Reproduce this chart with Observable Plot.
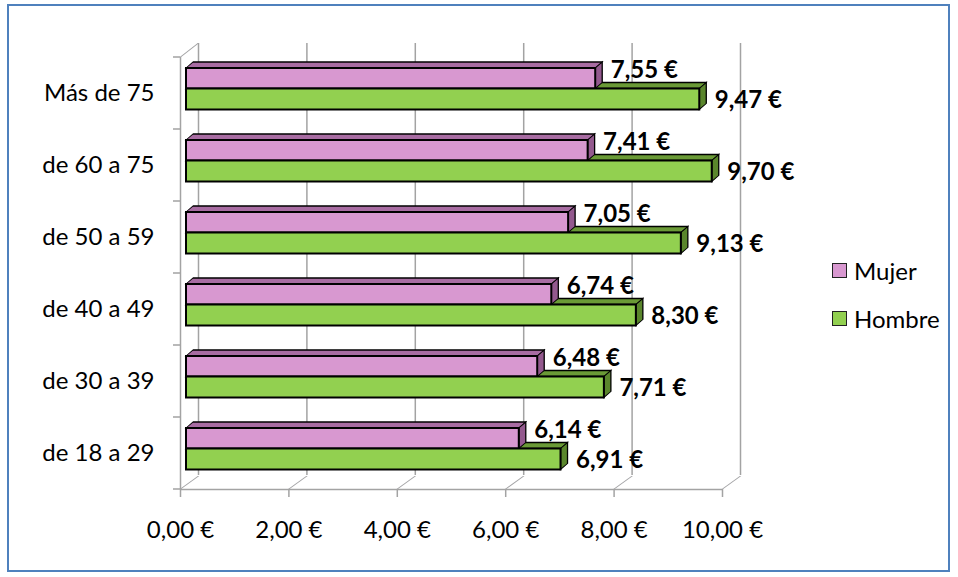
<!DOCTYPE html>
<html>
<head>
<meta charset="utf-8">
<script src="https://cdn.jsdelivr.net/npm/d3@7"></script>
<script src="https://cdn.jsdelivr.net/npm/@observablehq/plot@0.6"></script>
<style>
  html, body { margin: 0; padding: 0; background: #fff; }
  #wrap { position: relative; width: 958px; height: 577px; font-family: Lato, "Open Sans", sans-serif; }
  #chart svg { display: block; }
  #frame { position: absolute; left: 7px; top: 4px; width: 943px; height: 568px; box-sizing: border-box; border: 2px solid #4F81BD; pointer-events: none; }
  #legend { position: absolute; left: 832px; top: 0; }
  .li { position: absolute; left: 0; display: flex; align-items: center; white-space: nowrap; font-size: 24px; color: #000; }
  .sw { width: 15px; height: 15px; box-sizing: border-box; border: 1.5px solid #222; margin-right: 7px; }
  rect[aria-label="top-face"], g[fill="#6A9A36"] rect, g[fill="#A86CA2"] rect {
    transform-box: fill-box; transform-origin: 0 100%; transform: skewX(-49.4deg); }
  rect[aria-label="side-face"], g[fill="#5A862C"] rect, g[fill="#93598E"] rect {
    transform-box: fill-box; transform-origin: 0 0; transform: skewY(-40.6deg); }
  line[aria-label="diag-top"], g[stroke="#A3A3A4"] line {
    transform-box: fill-box; transform-origin: 0 100%; transform: skewX(-52.1deg); }
  line[aria-label="diag-floor"], g[stroke="#A3A3A5"] line {
    transform-box: fill-box; transform-origin: 0 100%; transform: skewX(-54.2deg); }
</style>
</head>
<body>
<div id="wrap">
  <div id="chart"></div>
  <div id="legend"></div>
  <div id="frame"></div>
</div>
<script>
// ---- data ----
const categories = ["Más de 75", "de 60 a 75", "de 50 a 59", "de 40 a 49", "de 30 a 39", "de 18 a 29"];
const mujer  = [7.55, 7.41, 7.05, 6.74, 6.48, 6.14];
const hombre = [9.47, 9.70, 9.13, 8.30, 7.71, 6.91];
const xTicks = [0, 2, 4, 6, 8, 10];
const xTickLabels = ["0,00 €", "2,00 €", "4,00 €", "6,00 €", "8,00 €", "10,00 €"];
const seriesNames = ["Mujer", "Hombre"];
const seriesColors = ["#D898D0", "#92D050"];

// ---- styling ----
const GRID = "#A3A3A3";
const PINK = "#D898D0", PINK_TOP = "#A86CA2", PINK_SIDE = "#93598E";
const GREEN = "#92D050", GREEN_TOP = "#6A9A36", GREEN_SIDE = "#5A862C";
const bw = 72;             // band height in px (range 57..489 / 6)
const mTop = 11, mBot = 31.5, hTop = 31.5, hBot = 52.5;  // bar positions inside band
const fmt = v => v.toFixed(2).replace(".", ",") + " €";

const mRows = categories.map((c, i) => ({cat: c, value: mujer[i]}));
const hRows = categories.map((c, i) => ({cat: c, value: hombre[i]}));
const first = () => categories[0];
const last = () => categories[categories.length - 1];
const lab = s => () => s;

const chart = Plot.plot({
  width: 958,
  height: 577,
  marginLeft: 180,
  marginRight: 236,
  marginTop: 57,
  marginBottom: 88,
  style: {fontFamily: "Lato, 'Open Sans', sans-serif", fontSize: "24px", background: "transparent", overflow: "visible", color: "#000"},
  x: {domain: [0, 10], axis: null},
  y: {type: "band", domain: categories, padding: 0, axis: null},
  marks: [
    // back wall gridlines
    Plot.ruleX(xTicks, {x: d => d, dx: 18, dy: -14, stroke: GRID, strokeWidth: 1.5}),
    // left wall front edge
    Plot.ruleX([0], {x: d => d, stroke: GRID, strokeWidth: 1.5}),
    Plot.tickX([0], {x: d => d, y: first, insetTop: -14, insetBottom: bw, stroke: "#A3A3A4", strokeWidth: 1.5, ariaLabel: lab("diag-top")}),
    // floor
    Plot.tickX(xTicks, {x: d => d, y: last, insetTop: bw - 13, insetBottom: 0, stroke: "#A3A3A5", strokeWidth: 1.5, ariaLabel: lab("diag-floor")}),
    Plot.ruleY([categories[categories.length - 1]], {y: d => d, dy: bw / 2, x1: 0, x2: 10, stroke: GRID, strokeWidth: 1.5}),
    // x ticks
    Plot.tickX(xTicks, {x: d => d, y: last, insetTop: bw, insetBottom: -8, stroke: GRID, strokeWidth: 1.5}),
    // y boundary ticks
    Plot.barX(categories, {y: d => d, x1: 0, x2: 0, insetLeft: -7, insetTop: -0.75, insetBottom: bw - 0.75, fill: GRID}),
    Plot.barX([categories[categories.length - 1]], {y: d => d, x1: 0, x2: 0, insetLeft: -7, insetTop: bw - 0.75, insetBottom: -0.75, fill: GRID}),

    // Hombre top + side faces
    Plot.barX(hRows, {x1: 0, x2: "value", y: "cat", dx: 6, insetTop: hTop - 6, insetBottom: bw - hTop, fill: GREEN_TOP, stroke: "#000", strokeWidth: 1.3, ariaLabel: lab("top-face")}),
    Plot.barX(hRows, {x1: "value", x2: "value", y: "cat", dx: 6, insetRight: -7, insetTop: hTop, insetBottom: bw - hBot, fill: GREEN_SIDE, stroke: "#000", strokeWidth: 1.3, ariaLabel: lab("side-face")}),
    // Mujer top + side faces
    Plot.barX(mRows, {x1: 0, x2: "value", y: "cat", dx: 6, insetTop: mTop - 6, insetBottom: bw - mTop, fill: PINK_TOP, stroke: "#000", strokeWidth: 1.3, ariaLabel: lab("top-face")}),
    Plot.barX(mRows, {x1: "value", x2: "value", y: "cat", dx: 6, insetRight: -7, insetTop: mTop, insetBottom: bw - mBot, fill: PINK_SIDE, stroke: "#000", strokeWidth: 1.3, ariaLabel: lab("side-face")}),
    // front faces
    Plot.barX(mRows, {x1: 0, x2: "value", y: "cat", dx: 6, insetTop: mTop, insetBottom: bw - mBot, fill: PINK, stroke: "#000", strokeWidth: 2}),
    Plot.barX(hRows, {x1: 0, x2: "value", y: "cat", dx: 6, insetTop: hTop, insetBottom: bw - hBot, fill: GREEN, stroke: "#000", strokeWidth: 2}),

    // value labels
    Plot.text(mRows, {x: "value", y: "cat", text: d => fmt(d.value), dx: 21, dy: -23, textAnchor: "start", fontWeight: "bold", fill: "#000"}),
    Plot.text(hRows, {x: "value", y: "cat", text: d => fmt(d.value), dx: 21, dy: 7, textAnchor: "start", fontWeight: "bold", fill: "#000"}),

    // category labels
    Plot.text(categories, {y: d => d, frameAnchor: "left", textAnchor: "end", dx: -26, fill: "#000"}),
    // x tick labels
    Plot.text(xTicks, {x: d => d, y: last, dy: bw / 2 + 41, text: (d, i) => xTickLabels[i], fill: "#000"})
  ]
});
document.getElementById("chart").appendChild(chart);

// legend
const legend = document.getElementById("legend");
const legendY = [270, 318];
seriesNames.forEach((name, i) => {
  const item = document.createElement("div");
  item.className = "li";
  item.style.top = (legendY[i] - 15) + "px";
  item.style.height = "30px";
  const sw = document.createElement("div");
  sw.className = "sw";
  sw.style.background = seriesColors[i];
  const t = document.createElement("span");
  t.textContent = name;
  item.appendChild(sw);
  item.appendChild(t);
  legend.appendChild(item);
});
</script>
</body>
</html>
